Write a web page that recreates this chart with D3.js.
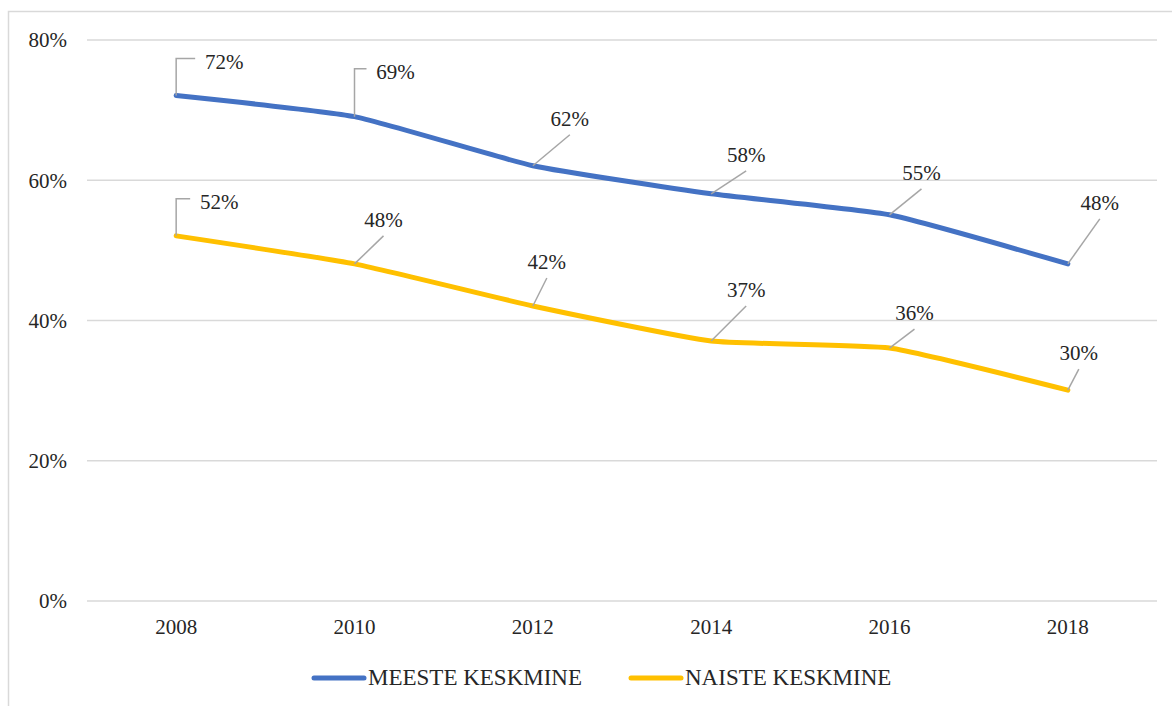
<!DOCTYPE html>
<html>
<head>
<meta charset="utf-8">
<script src="https://cdn.jsdelivr.net/npm/d3@7"></script>
<style>
  body { margin: 0; background: #fff; }
</style>
</head>
<body>
<div id="chart"></div>
<script>
// andmed
years = ['2008', '2010', '2012', '2014', '2016', '2018']
meeste = [72, 69, 62, 58, 55, 48]
naiste = [52, 48, 42, 37, 36, 30]
yTicks = [0, 20, 40, 60, 80]
seriesNames = ['MEESTE KESKMINE', 'NAISTE KESKMINE']

// sildi asukohad (dx, dy teksti keskpunktini, e = murtud juhtjoon)
labelPosMeeste = [[48, -34, 'e'], [41, -45, 'e'], [37, -47], [35, -39], [32, -42], [32, -61]]
labelPosNaiste = [[43, -34, 'e'], [29, -44], [14, -44], [35, -51], [25, -35], [11, -37]]

FONT = "'Liberation Serif', 'Times New Roman', serif"
W = 1172
H = 706
plotLeft = 87
plotRight = 1157
plotTop = 39.5
plotBottom = 600.5

svg = d3.select('#chart')
  .append('svg')
  .attr('width', W)
  .attr('height', H)

// raam
svg.append('path')
  .attr('d', `M8.5,${H} V11.5 H${W}`)
  .attr('fill', 'none')
  .attr('stroke', '#d9d9d9')
  .attr('stroke-width', 1.5)

x = d3.scaleBand().domain(years).range([plotLeft, plotRight])
y = d3.scaleLinear().domain([0, 80]).range([plotBottom, plotTop])
xc = d => x(d) + x.bandwidth() / 2

// ruudustik
yAxis = svg.append('g')
  .attr('transform', `translate(${plotLeft}, 0)`)
  .call(d3.axisLeft(y).tickValues(yTicks).tickSize(-(plotRight - plotLeft)).tickFormat(d => d + '%'))
yAxis.select('.domain').remove()
yAxis.selectAll('line').attr('stroke', '#d9d9d9').attr('stroke-width', 1.5)
yAxis.selectAll('text')
  .attr('x', -20)
  .attr('dy', '0.35em')
  .style('font-size', '21px')
  .style('font-family', FONT)
  .attr('fill', '#262626')

xAxis = svg.append('g')
  .attr('transform', `translate(0, ${plotBottom})`)
  .call(d3.axisBottom(x).tickSize(0))
xAxis.select('.domain').remove()
xAxis.selectAll('text')
  .attr('y', 19)
  .attr('dy', '0.71em')
  .style('font-size', '21px')
  .style('font-family', FONT)
  .attr('fill', '#262626')

line = d3.line()
  .x((d, i) => xc(years[i]))
  .y(d => y(d))
  .curve(d3.curveCardinal.tension(0.55))

series = [
  { name: seriesNames[0], values: meeste, color: '#4472c4', pos: labelPosMeeste },
  { name: seriesNames[1], values: naiste, color: '#ffc000', pos: labelPosNaiste }
]

series.forEach(s => {
  svg.append('path')
    .attr('d', line(s.values))
    .attr('fill', 'none')
    .attr('stroke', s.color)
    .attr('stroke-width', 5)
    .attr('stroke-linejoin', 'round')
    .attr('stroke-linecap', 'round')

  // juhtjooned ja sildid
  s.values.forEach((v, i) => {
    px = xc(years[i])
    py = y(v)
    p = s.pos[i]
    tx = px + p[0]
    ty = py + p[1]
    if (p[2] == 'e') {
      d = `M${px},${py} V${ty - 3} H${tx - 29}`
    } else {
      d = `M${px},${py} L${tx},${ty + 16}`
    }
    svg.append('path')
      .attr('d', d)
      .attr('fill', 'none')
      .attr('stroke', '#a6a6a6')
      .attr('stroke-width', 1.5)
    svg.append('text')
      .attr('x', tx)
      .attr('y', ty)
      .attr('dy', '0.35em')
      .attr('text-anchor', 'middle')
      .attr('fill', '#262626')
      .style('font-family', FONT)
      .style('font-size', '21px')
      .text(v + '%')
  })
})

// legend
legX = [312, 629]
series.forEach((s, i) => {
  g = svg.append('g').attr('transform', `translate(${legX[i]}, 678)`)
  g.append('line')
    .attr('x1', 2).attr('x2', 52)
    .attr('stroke', s.color)
    .attr('stroke-width', 5)
    .attr('stroke-linecap', 'round')
  g.append('text')
    .attr('x', 56)
    .attr('y', 7)
    .attr('fill', '#262626')
    .style('font-family', FONT)
    .style('font-size', '23px')
    .text(s.name)
})
</script>
</body>
</html>
